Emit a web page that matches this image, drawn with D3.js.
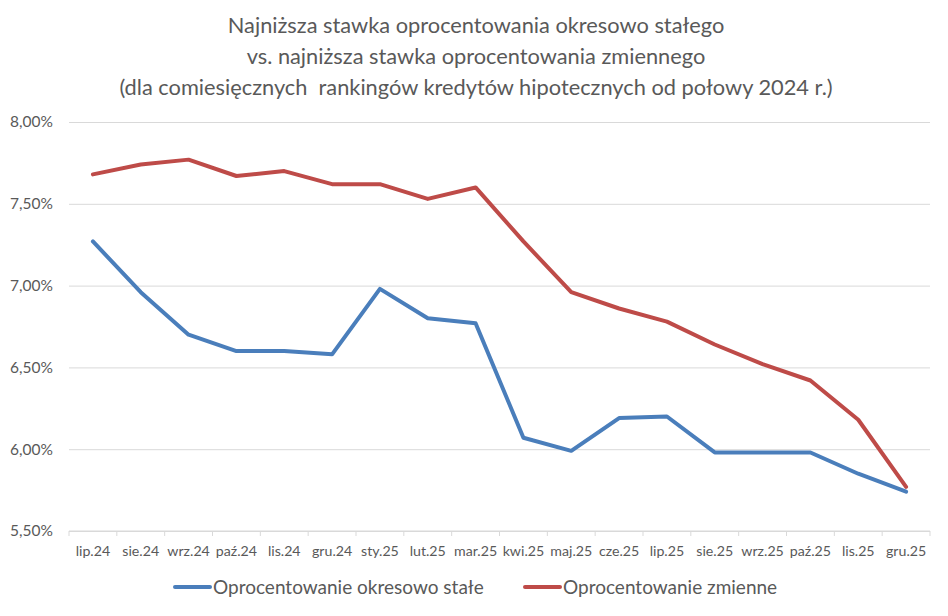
<!DOCTYPE html>
<html>
<head>
<meta charset="utf-8">
<script src="https://cdn.jsdelivr.net/npm/d3@7"></script>
<style>
  body { margin: 0; background: #fff; }
  svg { font-family: Lato, "Open Sans", sans-serif; }
</style>
</head>
<body>
<div id="chart"></div>
<script>
// data
const months = ['lip.24', 'sie.24', 'wrz.24', 'paź.24', 'lis.24', 'gru.24', 'sty.25', 'lut.25', 'mar.25',
    'kwi.25', 'maj.25', 'cze.25', 'lip.25', 'sie.25', 'wrz.25', 'paź.25', 'lis.25', 'gru.25'];
const fixedRate = [7.27, 6.96, 6.70, 6.60, 6.60, 6.58, 6.98, 6.80, 6.77,
    6.07, 5.99, 6.19, 6.20, 5.98, 5.98, 5.98, 5.85, 5.74];
const variableRate = [7.68, 7.74, 7.77, 7.67, 7.70, 7.62, 7.62, 7.53, 7.60,
    7.27, 6.96, 6.86, 6.78, 6.64, 6.52, 6.42, 6.18, 5.77];
const yTicks = [5.5, 6.0, 6.5, 7.0, 7.5, 8.0];
const titleLines = ['Najniższa stawka oprocentowania okresowo stałego',
    'vs. najniższa stawka oprocentowania zmiennego',
    '(dla comiesięcznych  rankingów kredytów hipotecznych od połowy 2024 r.)'];
const seriesNames = ['Oprocentowanie okresowo stałe', 'Oprocentowanie zmienne'];
const colors = ['#4a7ebb', '#be4b48'];

const width = 948, height = 616;
const margin = {top: 122, right: 18, bottom: 85, left: 69};
const innerW = width - margin.left - margin.right;
const innerH = height - margin.top - margin.bottom;

const svg = d3.select('#chart')
    .append('svg')
    .attr('width', width)
    .attr('height', height);

// title
svg.append('g')
    .selectAll('text')
    .data(titleLines)
    .join('text')
    .attr('x', width / 2 + 2)
    .attr('y', (d, i) => 33 + i * 31)
    .attr('text-anchor', 'middle')
    .attr('fill', '#595959')
    .attr('font-size', 21.8)
    .attr('xml:space', 'preserve')
    .style('white-space', 'pre')
    .text(d => d);

const g = svg.append('g')
    .attr('transform', 'translate(' + margin.left + ',' + margin.top + ')');

const x = d3.scaleBand()
    .domain(months)
    .range([0, innerW]);

const y = d3.scaleLinear()
    .domain([5.5, 8.0])
    .range([innerH, 0]);

// gridlines
g.append('g')
    .call(d3.axisLeft(y).tickValues(yTicks).tickSize(-innerW).tickFormat(''))
    .call(a => a.select('.domain').remove())
    .call(a => a.selectAll('line').attr('stroke', '#d9d9d9').attr('stroke-width', 1));

// y labels
g.append('g')
    .call(d3.axisLeft(y).tickValues(yTicks).tickSize(0).tickPadding(16)
        .tickFormat(d => d.toFixed(2).replace('.', ',') + '%'))
    .call(a => a.select('.domain').remove())
    .call(a => a.selectAll('text').attr('fill', '#595959').attr('font-size', 15.5)
        .attr('font-family', 'Lato, sans-serif'));

// x axis with ticks between categories
const xAxis = g.append('g')
    .attr('transform', 'translate(0,' + innerH + ')');
xAxis.append('line')
    .attr('x1', 0).attr('x2', innerW)
    .attr('stroke', '#d9d9d9');
xAxis.selectAll('.tk')
    .data(months.concat(['end']))
    .join('line')
    .attr('class', 'tk')
    .attr('x1', (d, i) => i < months.length ? x(d) : innerW)
    .attr('x2', (d, i) => i < months.length ? x(d) : innerW)
    .attr('y1', 0).attr('y2', 5)
    .attr('stroke', '#d9d9d9');
xAxis.selectAll('text')
    .data(months)
    .join('text')
    .attr('x', d => x(d) + x.bandwidth() / 2)
    .attr('y', 25)
    .attr('text-anchor', 'middle')
    .attr('fill', '#595959')
    .attr('font-size', 14.2)
    .text(d => d);

// lines
const line = d3.line()
    .x((d, i) => x(months[i]) + x.bandwidth() / 2)
    .y(d => y(d));

[fixedRate, variableRate].forEach((s, k) => {
    g.append('path')
        .datum(s)
        .attr('fill', 'none')
        .attr('stroke', colors[k])
        .attr('stroke-width', 4)
        .attr('stroke-linejoin', 'round')
        .attr('stroke-linecap', 'round')
        .attr('d', line);
});

// legend
const legendX = [175, 525];
const legend = svg.append('g');
seriesNames.forEach((name, k) => {
    legend.append('line')
        .attr('x1', legendX[k]).attr('x2', legendX[k] + 35)
        .attr('y1', 587).attr('y2', 587)
        .attr('stroke', colors[k])
        .attr('stroke-width', 4)
        .attr('stroke-linecap', 'round');
    legend.append('text')
        .attr('x', legendX[k] + 38)
        .attr('y', 594)
        .attr('fill', '#595959')
        .attr('font-size', 19)
        .text(name);
});
</script>
</body>
</html>
